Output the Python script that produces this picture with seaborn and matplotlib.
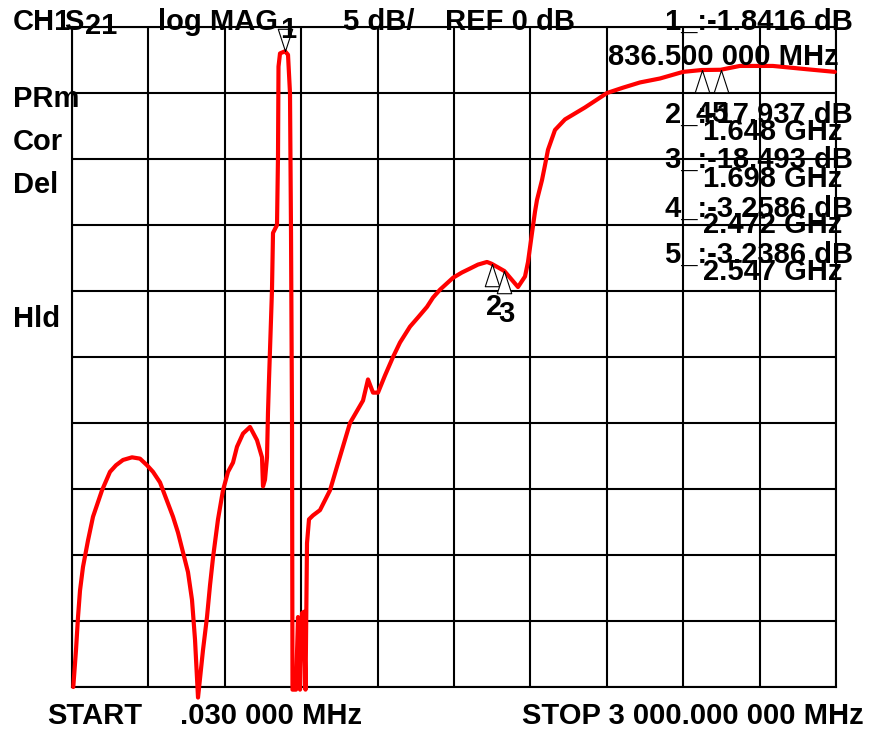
import numpy as np
import matplotlib
matplotlib.use("Agg")
import matplotlib.pyplot as plt
import seaborn as sns

# trace S21, log mag (MHz, dB)
freq = [5, 15.7, 23.6, 31.4, 43.2, 62.8, 82.5, 117.8, 149.2, 172.8,
        200.3, 235.6, 267.0, 294.5, 318.1, 345.6, 369.1, 396.6, 416.2, 435.9,
        455.5, 471.2, 483.0, 494.8, 514.4, 530.1, 541.9, 553.7, 573.3, 592.9,
        612.6, 632.2, 647.9, 671.5, 699.0, 726.4, 746.1, 750.0, 757.8, 765.7,
        769.6, 773.6, 781.4, 785.3, 789.3, 805.0, 808.9, 810.9, 816.8, 836.5,
        848.2, 856.0, 860.0, 863.9, 865.8, 879.6, 887.5, 895.3, 903.2, 911.0,
        916.9, 922.8, 930.6, 946.3, 973.8, 1013.1, 1040.6, 1091.6, 1142.7, 1162.3,
        1182.0, 1201.6, 1229.0, 1260.5, 1288.0, 1327.2, 1358.7, 1394.0, 1417.5, 1445.0,
        1496.1, 1531.0, 1562.8, 1594.0, 1629.6, 1648, 1698, 1751.3, 1778.8, 1790.6,
        1806.3, 1818.0, 1825.9, 1845.5, 1857.0, 1869.1, 1896.6, 1935.9, 2014.0, 2100.8,
        2163.0, 2230.4, 2309.0, 2399.2, 2472, 2547, 2622.4, 2752.0, 2885.5, 2995.5]
db = [-50.0, -47.2, -44.7, -42.7, -40.9, -38.9, -37.1, -35.1, -33.7, -33.2,
      -32.8, -32.6, -32.7, -33.2, -33.7, -34.5, -35.7, -37.1, -38.3, -39.8,
      -41.3, -43.4, -46.4, -50.8, -47.2, -44.7, -42.3, -40.2, -37.3, -35.1,
      -33.7, -33.0, -31.8, -30.8, -30.3, -31.3, -32.6, -34.8, -34.3, -32.6,
      -29.2, -26.7, -22.2, -19.9, -15.6, -15.0, -9.8, -3.0, -2.0, -1.84,
      -2.1, -5.0, -15.6, -29.8, -50.2, -50.2, -44.7, -50.2, -44.4, -44.3,
      -50.2, -39.1, -37.3, -37.0, -36.6, -35.1, -33.3, -30.0, -28.3, -26.7,
      -27.7, -27.7, -26.4, -25.0, -23.9, -22.7, -22.0, -21.2, -20.5, -19.9,
      -19.0, -18.6, -18.3, -18.0, -17.8, -17.94, -18.49, -19.7, -18.9, -17.8,
      -15.6, -14.0, -13.1, -11.6, -10.5, -9.3, -7.8, -7.0, -6.1, -5.0,
      -4.6, -4.2, -3.9, -3.4, -3.26, -3.24, -2.95, -2.95, -3.2, -3.4]

# markers
mk_freq = [836.5, 1648, 1698, 2472, 2547]
mk_db = [-1.8416, -17.937, -18.493, -3.2586, -3.2386]
mk_text = ["1_:-1.8416 dB", "2_:-17.937 dB", "3_:-18.493 dB", "4_:-3.2586 dB", "5_:-3.2386 dB"]
mk_freq_text = ["836.500 000 MHz", "1.648 GHz", "1.698 GHz", "2.472 GHz", "2.547 GHz"]
side_labels = ["PRm", "Cor", "Del", "Hld"]

sns.set_style("white")
plt.rcParams['font.family'] = ['Liberation Sans', 'DejaVu Sans']
plt.rcParams['font.weight'] = 'bold'

W, H = 875, 729
fig = plt.figure(figsize=(W / 100, H / 100), dpi=100)
ax = fig.add_axes([72 / W, 1 - 687 / H, 764 / W, 660 / H])

def fpos(x, y):
    return x / W, 1 - y / H

sns.lineplot(x=freq, y=db, color='red', lw=3, estimator=None, sort=False,
             ax=ax, clip_on=False, zorder=3)

ax.set_xlim(0, 3000)
ax.set_ylim(-50, 0)
ax.set_xticks(np.linspace(0, 3000, 11))
ax.set_yticks(np.linspace(-50, 0, 11))
ax.set_xticklabels([])
ax.set_yticklabels([])
ax.tick_params(length=0)
ax.grid(True, color='black', lw=1.5)
for s in ax.spines.values():
    s.set_color('black')
    s.set_linewidth(1.5)

# marker triangles (tip on the trace)
up = [(0, 0), (-0.65, -2), (0.65, -2), (0, 0)]
down = [(0, 0), (-0.65, 2), (0.65, 2), (0, 0)]
ax.plot(mk_freq[1:], mk_db[1:], ls='none', marker=up, ms=32, mfc='white',
        mec='black', mew=0.8, zorder=4, clip_on=False)
ax.plot(mk_freq[:1], mk_db[:1], ls='none', marker=down, ms=32, mfc='none',
        mec='black', mew=0.8, zorder=4, clip_on=False)

fs = 21
def txt(x, y, s, **kw):
    fig.text(*fpos(x, y), s, fontsize=fs, fontweight='bold', color='black',
             va='baseline', ha='left', **kw)

# header
txt(13, 30, "CH1")
txt(64, 30, "S")
txt(85, 34, "21")
txt(158, 30, "log MAG")
txt(280, 38, "1")
txt(343, 30, "5 dB/")
txt(445, 30, "REF 0 dB")
txt(665, 30, mk_text[0])
txt(608, 65, mk_freq_text[0])

# marker readouts
ys = [(123, 140), (168, 187), (217, 233), (263, 280)]
for (y1, y2), t1, t2 in zip(ys, mk_text[1:], mk_freq_text[1:]):
    txt(665, y1, t1)
    txt(703, y2, t2)

# marker numbers under triangles
txt(486, 315, "2")
txt(498, 322, "3")
txt(696, 122, "4")
txt(711, 122, "5")

for lab, y in zip(side_labels, [107, 150, 193, 327]):
    txt(13, y, lab)

txt(47, 724, "START")
txt(180, 724, ".030 000 MHz")
txt(522, 724, "STOP 3 000.000 000 MHz")

fig.savefig("out.png", dpi=100, facecolor='white')
